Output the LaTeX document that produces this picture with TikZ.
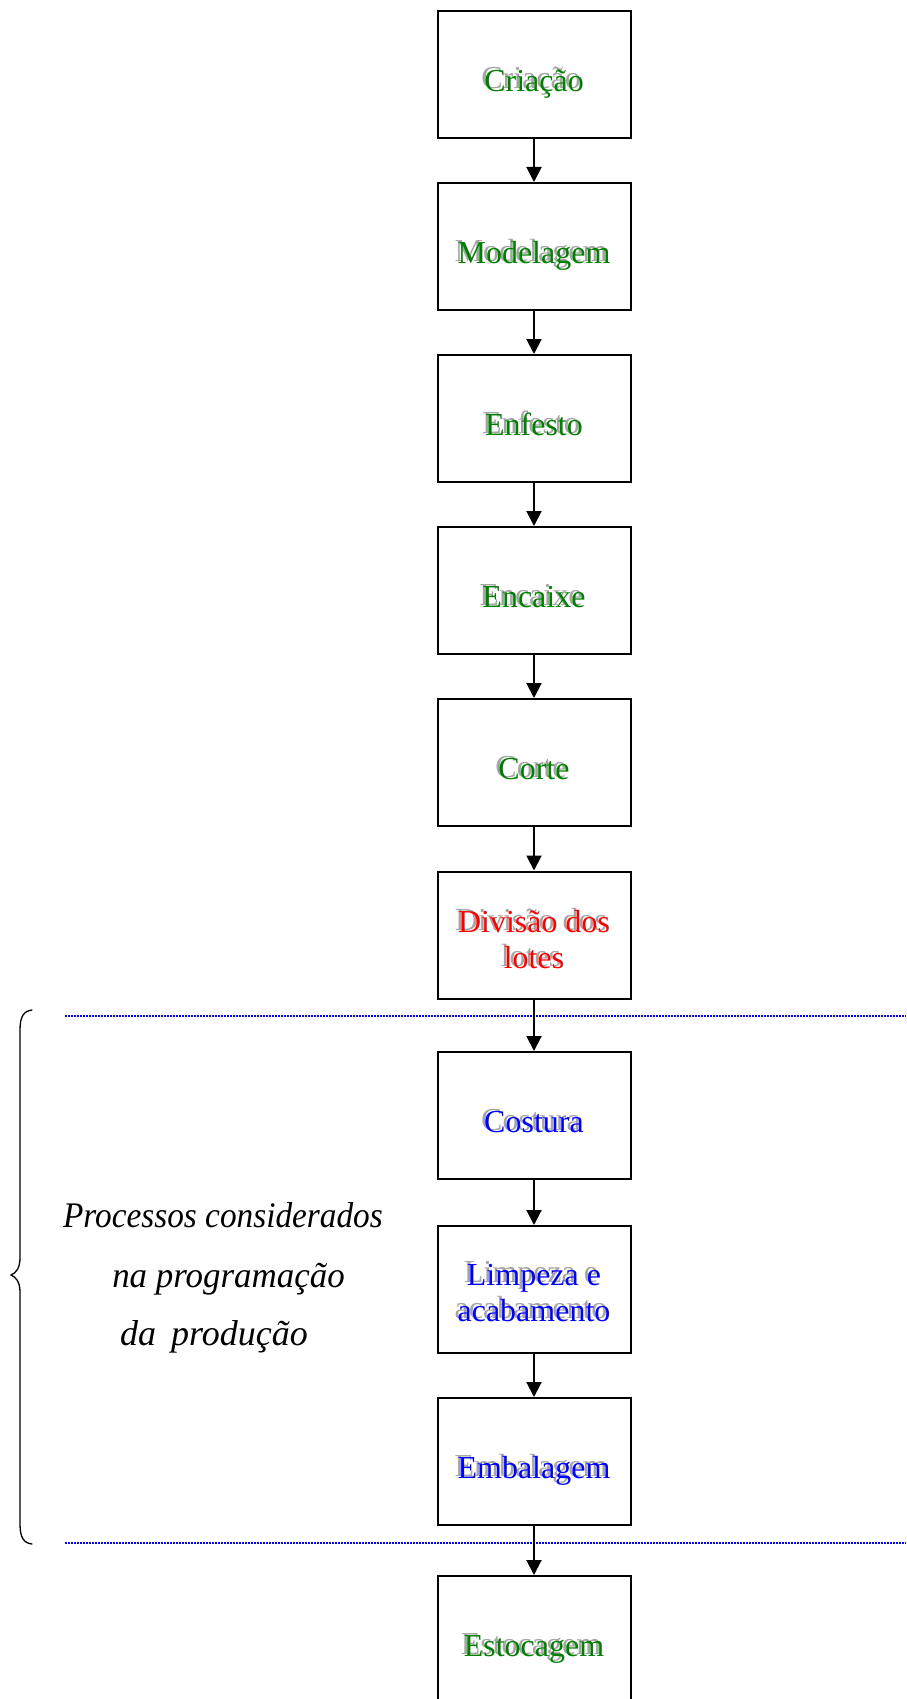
\documentclass[tikz,border=0pt]{standalone}
\usepackage{fontspec}
\setmainfont{Liberation Serif}
\usetikzlibrary{arrows.meta}
\definecolor{procgreen}{RGB}{0,128,0}
\definecolor{procred}{RGB}{255,0,0}
\definecolor{procblue}{RGB}{0,0,255}
\definecolor{shadowgray}{RGB}{165,165,165}
\newcommand\shtxt[2]{\makebox[0pt][l]{\hspace{-3pt}\raisebox{2.5pt}{\textcolor{shadowgray}{#2}}}\textcolor{#1}{#2}}
\tikzset{
  stepbox/.style={draw=black, line width=2pt, fill=white, minimum width=193pt, minimum height=127pt,
    inner sep=0pt, align=center, font=\fontsize{32}{36}\selectfont},
  oneline/.style={text height=34pt, text depth=0pt},
  flowarrow/.style={line width=2pt, -{Triangle[length=15pt,width=15pt]}},
  divider/.style={draw=procblue, line width=1.5pt, dash pattern=on 1.5pt off 1.5pt},
  bracepath/.style={line width=1.3pt, line cap=round},
  note/.style={font=\itshape\fontsize{36}{40}\selectfont, anchor=base, inner sep=0pt}
}
\begin{document}
\begin{tikzpicture}[x=1pt,y=-1pt]
\useasboundingbox (0,0) rectangle (906,1699);
\node[stepbox,oneline] (criacao)   at (534,74.5)   {\shtxt{procgreen}{Criação}};
\node[stepbox,oneline] (modelagem) at (534,246.5)  {\shtxt{procgreen}{Modelagem}};
\node[stepbox,oneline] (enfesto)   at (534,418.5)  {\shtxt{procgreen}{Enfesto}};
\node[stepbox,oneline] (encaixe)   at (534,590.5)  {\shtxt{procgreen}{Encaixe}};
\node[stepbox,oneline] (corte)     at (534,762.5)  {\shtxt{procgreen}{Corte}};
\node[stepbox] (divisao)   at (534,935)    {\rule{0pt}{32pt}\shtxt{procred}{Divisão dos}\\\shtxt{procred}{lotes}};
\node[stepbox,oneline] (costura)   at (534,1115.5) {\shtxt{procblue}{Costura}};
\node[stepbox] (limpeza)   at (534,1289.5) {\rule{0pt}{28pt}\shtxt{procblue}{Limpeza e}\\\shtxt{procblue}{acabamento}};
\node[stepbox,oneline] (embalagem) at (534,1461.5) {\shtxt{procblue}{Embalagem}};
\node[stepbox,oneline] (estocagem) at (534,1639.5) {\shtxt{procgreen}{Estocagem}};

\draw[flowarrow] (criacao.south) -- (modelagem.north);
\draw[flowarrow] (modelagem.south) -- (enfesto.north);
\draw[flowarrow] (enfesto.south) -- (encaixe.north);
\draw[flowarrow] (encaixe.south) -- (corte.north);
\draw[flowarrow] (corte.south) -- (divisao.north);

\coordinate (dtl) at (65,1016);
\coordinate (dtr) at (906,1016);
\coordinate (dbl) at (65,1543);
\coordinate (dbr) at (906,1543);
\draw[divider] (dtl) -- (dtr);
\draw[divider] (dbl) -- (dbr);

\draw[flowarrow] (divisao.south) -- (costura.north);
\draw[flowarrow] (costura.south) -- (limpeza.north);
\draw[flowarrow] (limpeza.south) -- (embalagem.north);
\draw[flowarrow] (embalagem.south) -- (estocagem.north);

\coordinate (bracetop) at (32,1010);
\coordinate (bracetip) at (11,1275);
\coordinate (bracebot) at (32,1544);
\draw[bracepath] (bracetop) .. controls (24,1011) and (20,1016) .. (20,1030) -- (20,1258)
  .. controls (20,1268) and (16,1273) .. (bracetip)
  .. controls (16,1277) and (20,1282) .. (20,1292) -- (20,1524)
  .. controls (20,1538) and (24,1543) .. (bracebot);

\node[note] (note1) at (223,1227) {\scalebox{0.925}[1]{Processos considerados}};
\node[note] (note2) at (228.5,1287) {\scalebox{0.97}[1]{na programação}};
\node[note] (note3) at (214,1345) {da\hspace{15pt}produção};
\end{tikzpicture}
\end{document}
